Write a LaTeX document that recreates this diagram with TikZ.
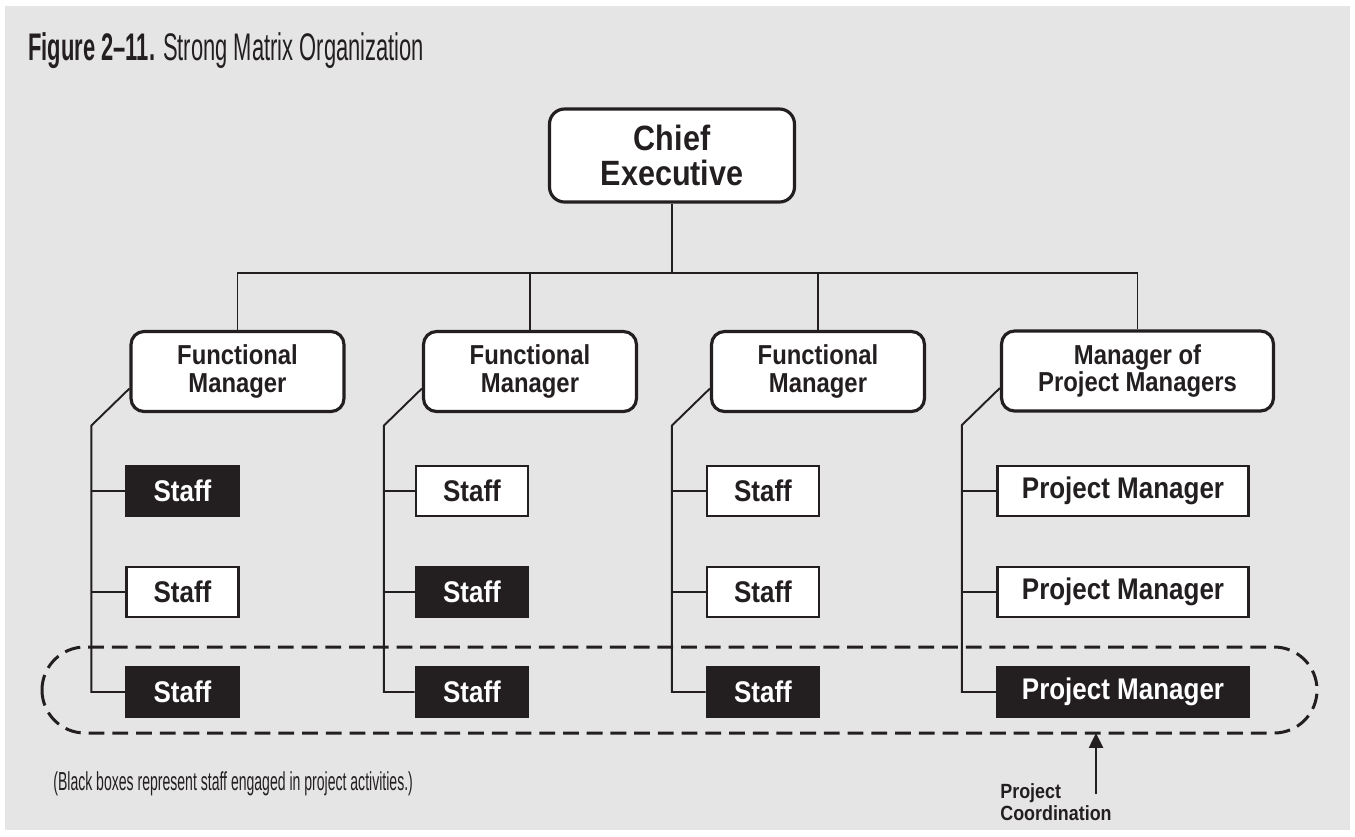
\documentclass[tikz,border=0pt]{standalone}
\usepackage{fontspec}
\setmainfont{Liberation Sans}
\newfontfamily\condtitle{Liberation Sans}[FakeStretch=0.57]
\newfontfamily\condlight{Liberation Sans}[FakeStretch=0.54]
\newfontfamily\condbold{Liberation Sans}[FakeStretch=0.87]
\usetikzlibrary{arrows.meta,positioning}
\definecolor{bggray}{HTML}{E5E5E5}
\definecolor{inkblack}{HTML}{231F20}

\begin{document}
\begin{tikzpicture}[x=0.02cm, y=-0.02cm,
		mgr/.style={draw=inkblack, line width=1.8pt, fill=white, rounded corners=0.26cm, align=center,
			minimum width=4.26cm, minimum height=1.6cm, inner sep=0pt, text=inkblack,
			font=\condbold\bfseries\fontsize{15.6}{15.5}\selectfont},
		chief/.style={mgr, minimum width=4.9cm, minimum height=1.86cm, rounded corners=0.3cm,
			font=\condbold\bfseries\fontsize{20}{20.4}\selectfont},
		staffbox/.style={draw=inkblack, line width=1.6pt, fill=white, text=inkblack,
			minimum width=2.24cm, minimum height=1.0cm, inner sep=0pt,
			font=\condbold\bfseries\fontsize{17}{18}\selectfont},
		busy/.style={staffbox, fill=inkblack, text=white},
		pmbox/.style={minimum width=5.02cm},
		link/.style={draw=inkblack, line width=1.1pt},
		coordline/.style={draw=inkblack, line width=1.7pt, dash pattern=on 9pt off 4.5pt, rounded corners=0.86cm}
	]
	\useasboundingbox (0,0) rectangle (1355,836);
	\fill[bggray] (5,6) rectangle (1350,830);

	\node[anchor=base west, inner sep=0pt, text=inkblack, font=\condtitle\fontsize{21.9}{26}\selectfont] (title) at (28,60)
		{{\bfseries Figure 2–11.} Strong Matrix Organization};

	% managers
	\node[chief] (ce) at (672,155.5) {Chief\\Executive};
	\node[mgr] (fm1) at (237.5,371.5) {Functional\\Manager};
	\node[mgr] (fm2) at (530,371.5) {Functional\\Manager};
	\node[mgr] (fm3) at (818,371.5) {Functional\\Manager};
	\node[mgr, minimum width=5.44cm] (mpm) at (1137.5,371) {Manager of\\Project Managers};

	% staff
	\node[busy] (s11) at (182.5,491) {Staff};
	\node[staffbox] (s12) at (182.5,592) {Staff};
	\node[busy] (s13) at (182.5,692) {Staff};
	\node[staffbox] (s21) at (472,491) {Staff};
	\node[busy] (s22) at (472,592) {Staff};
	\node[busy] (s23) at (472,692) {Staff};
	\node[staffbox] (s31) at (763,491) {Staff};
	\node[staffbox] (s32) at (763,592) {Staff};
	\node[busy] (s33) at (763,692) {Staff};
	\node[staffbox, pmbox] (s41) at (1123,491) {Project Manager};
	\node[staffbox, pmbox] (s42) at (1123,592) {Project Manager};
	\node[busy, pmbox] (s43) at (1123,692) {Project Manager};

	% links
	\coordinate (bus) at (672,273);
	\draw[link] (ce.south) -- (ce.south |- bus);
	\draw[link] (fm1.north) |- (mpm.north |- bus) -- (mpm.north);
	\draw[link] (fm2.north) -- (fm2.north |- bus);
	\draw[link] (fm3.north) -- (fm3.north |- bus);
	\foreach \m/\s in {fm1/s1, fm2/s2, fm3/s3, mpm/s4} {
		\draw[link] (\m.west) ++(0,17) -- ++(-38,37) coordinate (\m-k) |- (\s3.west);
		\draw[link] (\m-k |- \s1.west) -- (\s1.west);
		\draw[link] (\m-k |- \s2.west) -- (\s2.west);
	}

	% project coordination
	\draw[coordline] (42,647) rectangle (1317,733);
	\coordinate (pc) at (1096,733);
	\coordinate (pctail) at (1096,794);
	\draw[link, line width=1.3pt, -{Triangle[length=8.5pt,width=8pt]}] (pctail) -- (pc);
	\node[anchor=north west, inner sep=0pt, align=left, text=inkblack,
		font=\condbold\bfseries\fontsize{11.7}{12.5}\selectfont] (pclbl) at (1000,783) {Project\\Coordination};

	\node[anchor=base west, inner sep=0pt, text=inkblack, font=\condlight\fontsize{14.8}{17}\selectfont] (note) at (53,790)
		{(Black boxes represent staff engaged in project activities.)};
\end{tikzpicture}
\end{document}
